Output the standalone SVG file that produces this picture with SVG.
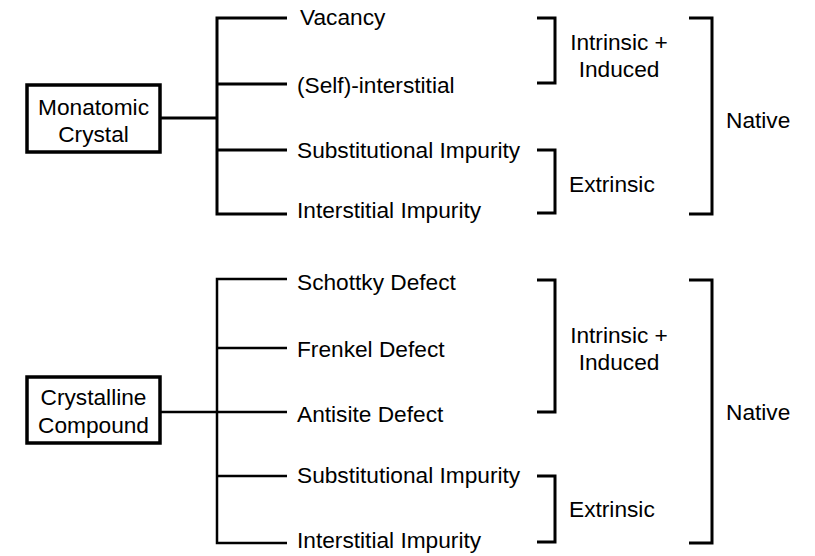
<svg xmlns="http://www.w3.org/2000/svg" width="815" height="556" viewBox="0 0 815 556">
<style>
text{font-family:"Liberation Sans",Arial,sans-serif;font-size:22.7px;fill:#000}
.box{fill:#fff;stroke:#000;stroke-width:3.5}
.ln{fill:none;stroke:#000;stroke-width:3;stroke-linecap:butt;stroke-linejoin:miter}
.ln2{fill:none;stroke:#000;stroke-width:2.5;stroke-linecap:butt;stroke-linejoin:miter}
.c{text-anchor:middle}
</style>
<rect width="815" height="556" fill="#fff"/>
<g id="connectors">
<path class="ln" d="M160,118H217M287,18H217V214H287M217,84H287M217,150H287"/>
<path class="ln" d="M537,18H555V83H537M537,150H555V213H537M689,18H712V214H689"/>
<path class="ln2" d="M160,412H217M287,279H217V543H287M217,348H287M217,412H287M217,476H287"/>
<path class="ln" d="M537,280H555V412H537M537,476H555V542H537M689,280H712V543H689"/>
</g>
<g id="monatomic">
<rect class="box" x="27" y="85" width="133" height="67"/>
<text class="c" x="93.5" y="115">Monatomic</text>
<text class="c" x="93.5" y="142">Crystal</text>
</g>
<g id="vacancy"><text x="300" y="25">Vacancy</text></g>
<g id="self-interstitial"><text x="297" y="93">(Self)-interstitial</text></g>
<g id="subst1"><text x="297" y="158">Substitutional Impurity</text></g>
<g id="inter1"><text x="297" y="218">Interstitial Impurity</text></g>
<g id="intrinsic1"><text class="c" x="619" y="50">Intrinsic +</text><text class="c" x="619" y="77">Induced</text></g>
<g id="extrinsic1"><text x="569" y="192">Extrinsic</text></g>
<g id="native1"><text x="726" y="128">Native</text></g>
<g id="compound">
<rect class="box" x="27" y="377" width="133" height="66"/>
<text class="c" x="93.5" y="405">Crystalline</text>
<text class="c" x="93.5" y="433">Compound</text>
</g>
<g id="schottky"><text x="297" y="290">Schottky Defect</text></g>
<g id="frenkel"><text x="297" y="357">Frenkel Defect</text></g>
<g id="antisite"><text x="297" y="422">Antisite Defect</text></g>
<g id="subst2"><text x="297" y="483">Substitutional Impurity</text></g>
<g id="inter2"><text x="297" y="548">Interstitial Impurity</text></g>
<g id="intrinsic2"><text class="c" x="619" y="343">Intrinsic +</text><text class="c" x="619" y="370">Induced</text></g>
<g id="extrinsic2"><text x="569" y="517">Extrinsic</text></g>
<g id="native2"><text x="726" y="420">Native</text></g>
</svg>
